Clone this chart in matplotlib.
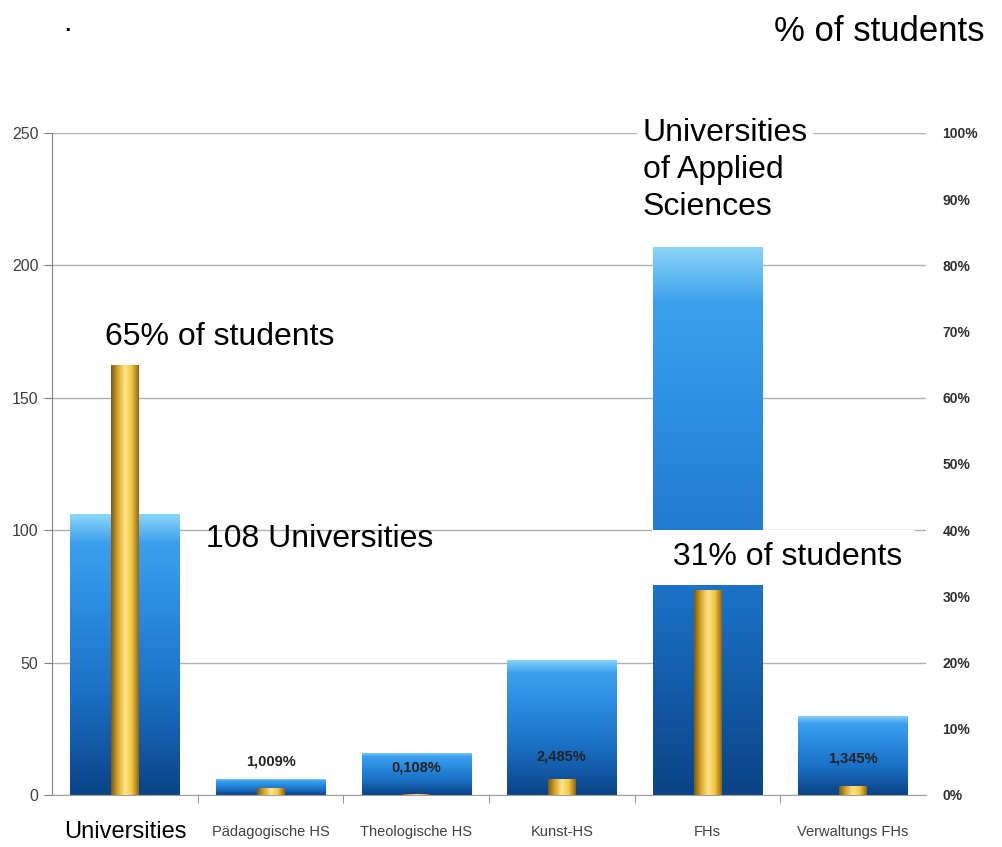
import matplotlib.pyplot as plt
import matplotlib.colors as mcolors
import numpy as np

# data
categories = ['Universities', 'Pädagogische HS', 'Theologische HS', 'Kunst-HS', 'FHs', 'Verwaltungs FHs']
institutions = [106, 6, 16, 51, 207, 30]
share_students = [65, 1.009, 0.108, 2.485, 31, 1.345]
share_labels = ['', '1,009%', '0,108%', '2,485%', '', '1,345%']
label_heights = [0, 12.5, 10.2, 14.4, 0, 13.6]
left_ticks = [0, 50, 100, 150, 200, 250]
right_ticks = list(range(0, 101, 10))

sans = 'Liberation Sans'

fig = plt.figure(figsize=(10.03, 8.47), dpi=100)
ax = fig.add_axes([0.052, 0.0614, 0.871, 0.7816])
ax2 = ax.twinx()

x = np.arange(len(categories))

blue_cmap = mcolors.LinearSegmentedColormap.from_list(
    'blue', [(0, '#0B4386'), (0.35, '#1A6FC4'), (0.7, '#2D8FE3'),
             (0.9, '#3DA0EE'), (1, '#8AD6F8')])
gold_cmap = mcolors.LinearSegmentedColormap.from_list(
    'gold', ['#7A5A12', '#D9A628', '#FFE58A', '#F4C640', '#8A6614'])

bars = ax.bar(x, institutions, width=0.75, color='#2A8BE0', zorder=2)
for b in bars:
    grad = np.linspace(0, 1, 256).reshape(-1, 1)
    im = ax.imshow(grad, cmap=blue_cmap, origin='lower', aspect='auto',
                   extent=(b.get_x(), b.get_x() + b.get_width(), 0, b.get_height()),
                   zorder=2.1)
    im.set_clip_path(b)

ybars = ax2.bar(x, share_students, width=0.19, color='#F4C640', zorder=3)
for b in ybars:
    grad = np.linspace(0, 1, 256).reshape(1, -1)
    im = ax2.imshow(grad, cmap=gold_cmap, aspect='auto',
                    extent=(b.get_x(), b.get_x() + b.get_width(), 0, b.get_height()),
                    zorder=3.1)
    im.set_clip_path(b)

ax.set_xlim(-0.5, len(categories) - 0.5)
ax.set_ylim(0, 250)
ax2.set_ylim(0, 100)

ax.set_yticks(left_ticks)
ax.set_yticklabels([str(t) for t in left_ticks], fontsize=11.5, color='#404040',
                   family=sans)
ax.yaxis.grid(True, color='#b0b0b0', linewidth=1)
ax.set_axisbelow(True)
ax.tick_params(axis='y', length=6, color='#808080', pad=4)

ax.set_xticks(x)
ax.set_xticklabels(categories, family=sans, fontsize=10.5, color='#404040', va='center')
first = ax.get_xticklabels()[0]
first.set_fontsize(17)
first.set_color('black')
ax.tick_params(axis='x', length=0, pad=27)
ax.set_xticks(np.arange(0.5, len(categories) - 0.5), minor=True)
ax.tick_params(axis='x', which='minor', length=6, color='#808080')

for s in ['top', 'right']:
    ax.spines[s].set_visible(False)
    ax2.spines[s].set_visible(False)
ax2.spines['left'].set_visible(False)
ax2.spines['bottom'].set_visible(False)
ax.spines['left'].set_color('#808080')
ax.spines['bottom'].set_color('#a0a0a0')

ax2.set_yticks(right_ticks)
ax2.set_yticklabels([f'{t}%' for t in right_ticks], fontsize=10, color='#303030',
                    family=sans, fontweight='bold')
ax2.tick_params(axis='y', length=0, pad=12)

for i, lab in enumerate(share_labels):
    if lab:
        ax.text(x[i], label_heights[i], lab, ha='center', va='center', fontsize=10.5,
                family=sans, fontweight='bold', color='#222222', zorder=5)

txt = dict(fontsize=23, family=sans, color='black')
fig.text(0.062, 0.965, '·', ha='left', va='center', **txt)
fig.text(0.982, 0.963, '% of students', ha='right', va='center',
         fontsize=25, family=sans, color='black')
fig.text(0.105, 0.602, '65% of students', ha='left', va='center', **txt)
fig.text(0.205, 0.364, '108 Universities', ha='left', va='center', **txt)
fig.text(0.662, 0.342, ' 31% of students', ha='left', va='center', zorder=10,
         bbox=dict(facecolor='white', edgecolor='none', pad=9), **txt)
fig.text(0.641, 0.799, 'Universities\nof Applied\nSciences', ha='left', va='center',
         linespacing=1.3, zorder=10,
         bbox=dict(facecolor='white', edgecolor='none', pad=4), **txt)

fig.savefig('out.png', dpi=100)
